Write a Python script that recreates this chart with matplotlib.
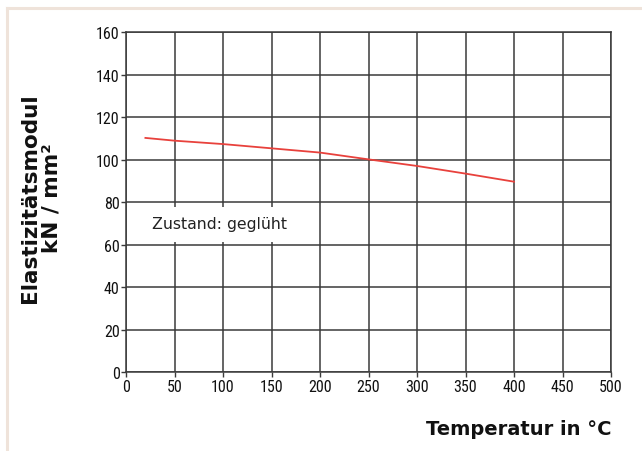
import matplotlib
matplotlib.use("Agg")
import matplotlib.pyplot as plt
from matplotlib.patches import Rectangle
from matplotlib import font_manager

# data
temperature = [20, 50, 100, 150, 200, 250, 300, 350, 400]
modulus = [110.3, 109.0, 107.4, 105.4, 103.4, 100.2, 97.1, 93.5, 89.7]
x_ticks = [0, 50, 100, 150, 200, 250, 300, 350, 400, 450, 500]
y_ticks = [0, 20, 40, 60, 80, 100, 120, 140, 160]
x_label = "Temperatur in °C"
y_label = "Elastizitätsmodul\nkN / mm²"
note = "Zustand: geglüht"

names = {f.name for f in font_manager.fontManager.ttflist}

W, H = 642, 452
fig = plt.figure(figsize=(W / 100, H / 100), dpi=100)
fig.patch.set_facecolor("white")

# beige frame (left and top edges)
frame_col = "#efe3da"
fig.add_artist(plt.Line2D([6.5 / W, 6.5 / W], [0, 1 - 9 / H], transform=fig.transFigure,
                          color=frame_col, lw=2.2))
fig.add_artist(plt.Line2D([6.5 / W, 1], [1 - 9 / H, 1 - 9 / H], transform=fig.transFigure,
                          color=frame_col, lw=2.2))

left, right, top, bottom = 126, 611, 33.3, 373.3
ax = fig.add_axes([left / W, 1 - bottom / H, (right - left) / W, (bottom - top) / H])
ax.set_xlim(0, 500)
ax.set_ylim(0, 160)

grid_col = "#3a3a3a"
ax.set_xticks(x_ticks)
ax.set_yticks(y_ticks)
ax.grid(True, color=grid_col, lw=1.1, zorder=1)
ax.set_axisbelow(True)
for s in ax.spines.values():
    s.set_color(grid_col)
    s.set_linewidth(1.1)

cands = ["Liberation Sans Narrow", "DejaVu Sans Condensed", "Roboto Condensed",
         "Open Sans Condensed"]
tick_family = next((c for c in cands if c in names), "DejaVu Sans")
ax.tick_params(axis="both", direction="out", length=3.5, width=1.0, color=grid_col,
               pad=1, labelsize=11.5, labelcolor="#111111")
for lbl in ax.get_xticklabels() + ax.get_yticklabels():
    lbl.set_family(tick_family)
    lbl.set_stretch("condensed")

# white box behind the note (covers grid lines)
ax.add_patch(Rectangle((4, 61.5), 192, 16.2, facecolor="white", edgecolor="none", zorder=2))
ax.text(27, 70, note, fontsize=11.3, family="DejaVu Sans", color="#222222",
        va="center", ha="left", zorder=3)

ax.plot(temperature, modulus, color="#e8413c", lw=1.3, zorder=4)

fig.text(41 / W, 1 - 198 / H, y_label, rotation=90, ha="center", va="center",
         multialignment="center", fontsize=15.5, fontweight="bold",
         family="DejaVu Sans", color="#111111", linespacing=1.1)
fig.text(right / W, 1 - 430 / H, x_label, ha="right", va="center", fontsize=14,
         fontweight="bold", family="DejaVu Sans", color="#111111")

fig.savefig("out.png", dpi=100, facecolor="white")
